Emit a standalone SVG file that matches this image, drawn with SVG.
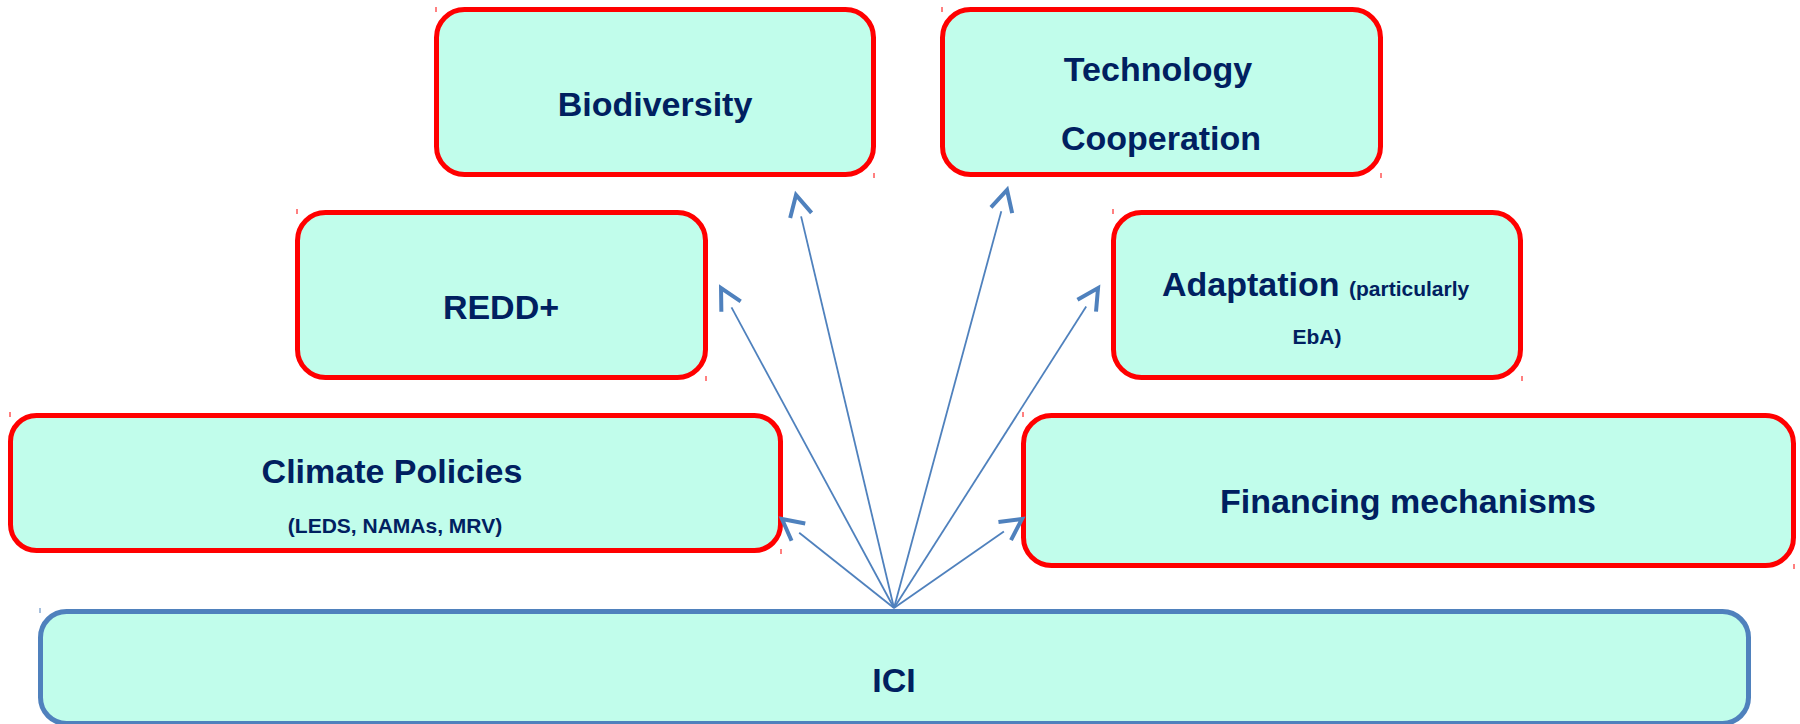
<svg xmlns="http://www.w3.org/2000/svg" width="1800" height="724" viewBox="0 0 1800 724">
  <style>
    .box { fill: #C1FDEB; stroke: #FF0000; stroke-width: 5; }
    .base { fill: #C1FDEB; stroke: #4F81BD; stroke-width: 5; }
    .t { font-family: "Liberation Sans", Arial, sans-serif; font-weight: bold; fill: #002060; font-size: 34px; text-anchor: middle; }
    .s { font-size: 21px; }
    .tick { stroke: #FF0000; stroke-width: 1; }
    .tickb { stroke: #4F81BD; stroke-width: 1; }
    .conn { stroke: #4F81BD; stroke-width: 1.8; fill: none; marker-end: url(#vhead); }
  </style>
  <defs>
    <marker id="vhead" markerUnits="userSpaceOnUse" markerWidth="30" markerHeight="30" refX="0" refY="15" orient="auto" overflow="visible">
      <path d="M1,4 L22,15 L1,26" fill="none" stroke="#4F81BD" stroke-width="4" stroke-linejoin="miter"/>
    </marker>
  </defs>
  <rect width="1800" height="724" fill="#FFFFFF"/>

  <g id="biodiversity">
    <rect class="box" x="436.5" y="9.5" width="437" height="165" rx="28"/>
    <line class="tick" x1="436" y1="7" x2="436" y2="12"/>
    <line class="tick" x1="874" y1="173" x2="874" y2="178"/>
    <text class="t" x="655" y="116">Biodiversity</text>
  </g>

  <g id="technology">
    <rect class="box" x="942.5" y="9.5" width="438" height="165" rx="28"/>
    <line class="tick" x1="942" y1="7" x2="942" y2="12"/>
    <line class="tick" x1="1381" y1="173" x2="1381" y2="178"/>
    <text class="t" x="1158" y="81">Technology</text>
    <text class="t" x="1161" y="150">Cooperation</text>
  </g>

  <g id="redd">
    <rect class="box" x="297.5" y="212.5" width="408" height="165" rx="28"/>
    <line class="tick" x1="297" y1="209" x2="297" y2="214"/>
    <line class="tick" x1="706" y1="376" x2="706" y2="381"/>
    <text class="t" x="501" y="319">REDD+</text>
  </g>

  <g id="adaptation">
    <rect class="box" x="1113.5" y="212.5" width="407" height="165" rx="28"/>
    <line class="tick" x1="1113" y1="209" x2="1113" y2="214"/>
    <line class="tick" x1="1522" y1="376" x2="1522" y2="381"/>
    <text class="t" x="1162" y="296" text-anchor="start" style="text-anchor:start">Adaptation <tspan class="s">(particularly</tspan></text>
    <text class="t s" x="1317" y="344">EbA)</text>
  </g>

  <g id="climate">
    <rect class="box" x="10.5" y="415.5" width="770" height="135" rx="26"/>
    <line class="tick" x1="10" y1="412" x2="10" y2="417"/>
    <line class="tick" x1="781" y1="549" x2="781" y2="554"/>
    <text class="t" x="392" y="483">Climate Policies</text>
    <text class="t s" x="395" y="533">(LEDS, NAMAs, MRV)</text>
  </g>

  <g id="financing">
    <rect class="box" x="1023.5" y="415.5" width="770" height="150" rx="28"/>
    <line class="tick" x1="1023" y1="412" x2="1023" y2="417"/>
    <line class="tick" x1="1794" y1="564" x2="1794" y2="569"/>
    <text class="t" x="1408" y="513">Financing mechanisms</text>
  </g>

  <g id="ici">
    <rect class="base" x="40.5" y="611.5" width="1708" height="112" rx="26"/>
    <line class="tickb" x1="40" y1="608" x2="40" y2="613"/>
    <text class="t" x="894" y="692">ICI</text>
  </g>

  <g id="connectors">
    <line class="conn" x1="894" y1="608" x2="799.2" y2="532.7"/>
    <line class="conn" x1="894" y1="608" x2="731.5" y2="307.4"/>
    <line class="conn" x1="894" y1="608" x2="801.1" y2="216.4"/>
    <line class="conn" x1="894" y1="608" x2="1001.3" y2="211.2"/>
    <line class="conn" x1="894" y1="608" x2="1086.2" y2="306.6"/>
    <line class="conn" x1="894" y1="608" x2="1003.9" y2="531.6"/>
  </g>
</svg>
